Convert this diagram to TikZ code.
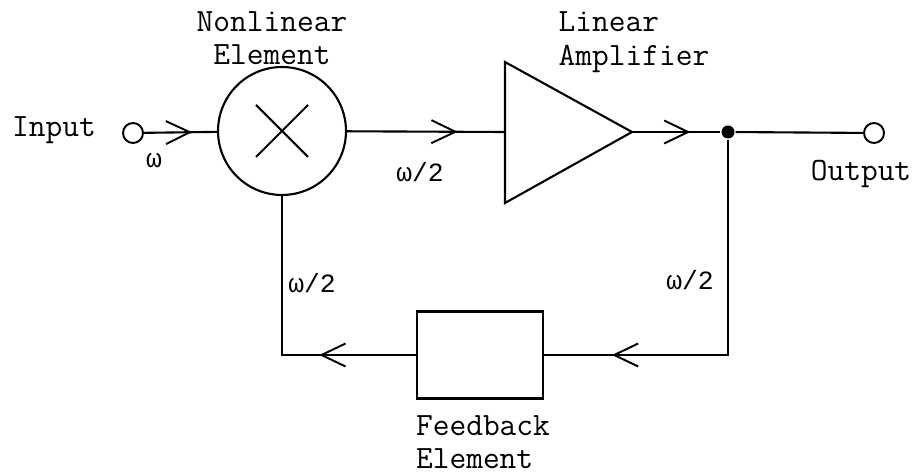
\documentclass[tikz,border=0pt]{standalone}
\usepackage{fontspec}
\newfontfamily\grk{Liberation Mono}
\usetikzlibrary{arrows.meta, positioning, decorations.markings}

\tikzset{
  flow/.style={postaction={decorate}, decoration={markings, mark=at position #1 with {\arrow{Straight Barb[length=0.48cm, width=0.46cm, line width=1.1pt]}}}},
  port/.style={circle, draw, line width=1.1pt, minimum size=0.4cm, inner sep=0pt},
  lbl/.style={font=\ttfamily\fontsize{18.5}{19}\selectfont, align=left, inner sep=0pt},
  freq/.style={font=\grk\fontsize{15}{17}\selectfont, inner sep=0pt},
}

\begin{document}
\begin{tikzpicture}[x=0.02cm, y=-0.02cm, line width=1.2pt]
\useasboundingbox (0,0) rectangle (922,475);
% forward path
\node[lbl] (inlbl) at (54,130) {Input};
\node[port] (in) at (133,133) {};
\node[circle, draw, minimum size=2.56cm, inner sep=0pt,
  path picture={\draw (path picture bounding box.center) +(-26,-26) -- +(26,26) +(-26,26) -- +(26,-26);}] (nl) at (282,131) {};
\node[lbl, align=center] (nllbl) at (272,38) {Nonlinear\\Element};
\coordinate (ampin) at (505,132);
\coordinate (ampout) at (632,132);
\draw (505,62) -- (ampout) -- (505,203) -- cycle;
\node[lbl] (amplbl) at (634,42) {Linear\\Amplifier};
\node[circle, fill, minimum size=0.26cm, inner sep=0pt] (tap) at (728,132) {};
\node[port] (out) at (874,133) {};
\node[lbl] (outlbl) at (861,174) {Output};
% feedback path
\node[draw, minimum width=2.52cm, minimum height=1.74cm, inner sep=0pt] (fb) at (480,355) {};
\node[lbl] (fblbl) at (483,442) {Feedback\\Element};

\draw[flow=0.66] (in) -- (nl);
\draw[flow=0.70] (nl) -- (ampin);
\draw[flow=0.66] (ampout) -- (tap);
\draw (tap) -- (out);
\draw[flow=0.83] (tap) |- (fb.east);
\draw[flow=0.33] (fb.west) -| (nl.south);

\node[freq] (w0) at (154,161) {ω};
\node[freq] (w1) at (420,172) {ω/2};
\node[freq] (w2) at (312,283) {ω/2};
\node[freq] (w3) at (690,280) {ω/2};
\end{tikzpicture}
\end{document}
